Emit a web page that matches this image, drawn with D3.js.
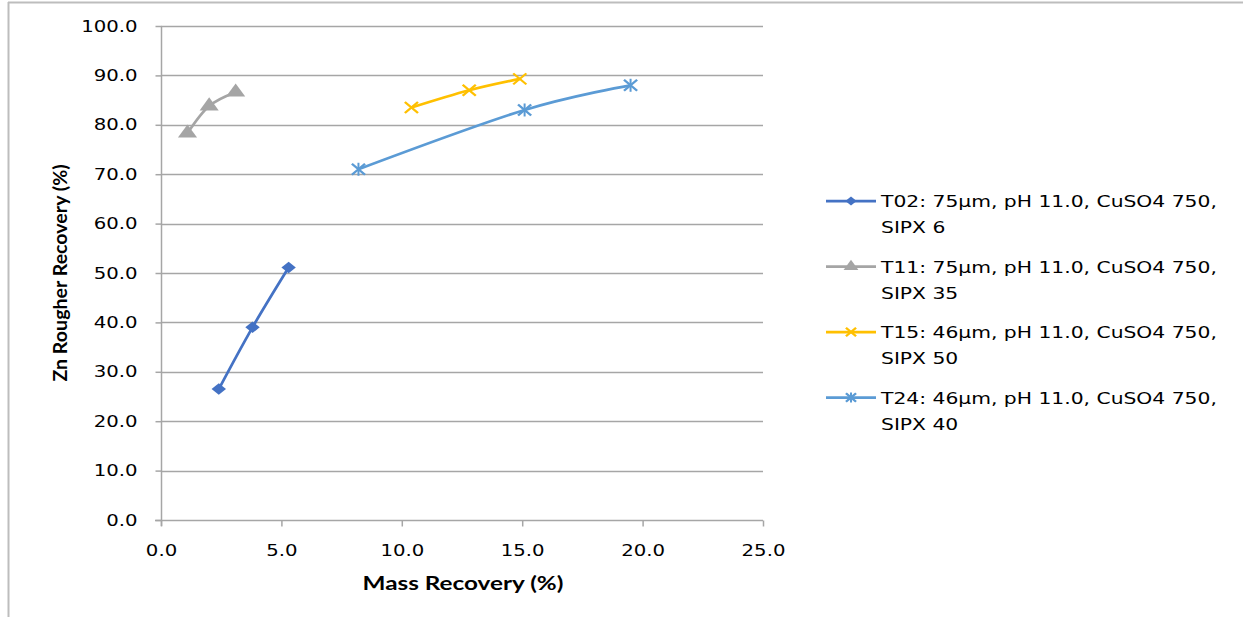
<!DOCTYPE html>
<html>
<head>
<meta charset="utf-8">
<script src="https://cdn.jsdelivr.net/npm/d3@7/dist/d3.min.js"></script>
<style>
  html, body { margin: 0; padding: 0; background: #fff; }
  svg { display: block; }
</style>
</head>
<body>
<svg id="chart" width="1243" height="617"></svg>
<script>
// Zn rougher recovery vs mass recovery, four flotation tests
const seriesNames = [
  "T02: 75\u00b5m, pH 11.0, CuSO4 750,|SIPX 6",
  "T11: 75\u00b5m, pH 11.0, CuSO4 750,|SIPX 35",
  "T15: 46\u00b5m, pH 11.0, CuSO4 750,|SIPX 50",
  "T24: 46\u00b5m, pH 11.0, CuSO4 750,|SIPX 40"
];
const massT02 = [2.4, 3.8, 5.3];
const znT02   = [26.5, 39.0, 51.1];
const massT11 = [1.1, 2.0, 3.1];
const znT11   = [78.3, 83.8, 86.6];
const massT15 = [10.4, 12.8, 14.9];
const znT15   = [83.5, 87.0, 89.3];
const massT24 = [8.2, 15.1, 19.5];
const znT24   = [71.0, 83.0, 88.0];
const xTicks = [0, 5, 10, 15, 20, 25];
const yTicks = [0, 10, 20, 30, 40, 50, 60, 70, 80, 90, 100];

const seriesColors = ["#4472C4", "#A5A5A5", "#FFC000", "#5B9BD5"];
const seriesMarkers = ["diamond", "triangle", "cross", "star"];

const series = [
  { name: seriesNames[0], x: massT02, y: znT02 },
  { name: seriesNames[1], x: massT11, y: znT11 },
  { name: seriesNames[2], x: massT15, y: znT15 },
  { name: seriesNames[3], x: massT24, y: znT24 }
].map((s, i) => ({
  ...s,
  color: seriesColors[i],
  marker: seriesMarkers[i],
  points: s.x.map((v, j) => [v, s.y[j]])
}));

const svg = d3.select("#chart");
const textStretch = 1.23; // wide text rendering of the chart

// outer chart frame (top and left edges)
svg.append("line").attr("x1", 8).attr("x2", 1243).attr("y1", 2.5).attr("y2", 2.5)
  .attr("stroke", "#bdbdbd").attr("stroke-width", 2);
svg.append("line").attr("x1", 8.5).attr("x2", 8.5).attr("y1", 2).attr("y2", 617)
  .attr("stroke", "#bdbdbd").attr("stroke-width", 2);

const plot = { left: 161, right: 763, top: 26, bottom: 520 };
const x = d3.scaleLinear().domain([0, 25]).range([plot.left, plot.right]);
const y = d3.scaleLinear().domain([0, 100]).range([plot.bottom, plot.top]);

const gridColor = "#a6a6a6";
const tickFont = "'DejaVu Sans', Verdana, sans-serif";

// horizontal gridlines
svg.append("g").selectAll("line").data(yTicks.filter(d => d > 0)).join("line")
  .attr("x1", plot.left).attr("x2", plot.right)
  .attr("y1", d => Math.round(y(d)) + 0.5).attr("y2", d => Math.round(y(d)) + 0.5)
  .attr("stroke", gridColor).attr("stroke-width", 1.5);

// y axis
const yAxis = svg.append("g").attr("transform", `translate(${plot.left + 0.5},0)`)
  .call(d3.axisLeft(y).tickValues(yTicks).tickSize(6).tickSizeOuter(0).tickPadding(18)
    .tickFormat(d3.format(".1f")));
// x axis
const xAxis = svg.append("g").attr("transform", `translate(0,${plot.bottom + 0.5})`)
  .call(d3.axisBottom(x).tickValues(xTicks).tickSize(6).tickSizeOuter(0).tickPadding(18)
    .tickFormat(d3.format(".1f")));

[yAxis, xAxis].forEach(ax => {
  ax.select(".domain").attr("stroke", gridColor).attr("stroke-width", 1.5);
  ax.selectAll(".tick line").attr("stroke", gridColor).attr("stroke-width", 1.5);
  ax.selectAll(".tick text").attr("fill", "#000")
    .style("font-family", tickFont).style("font-size", "16px")
    .each(function () {
      const t = d3.select(this);
      const tx = +t.attr("x") || 0, ty = +t.attr("y") || 0;
      t.attr("x", 0).attr("y", 0)
        .attr("transform", `translate(${tx},${ty}) scale(${textStretch},1)`);
    });
});
// y axis line spans the full plot height
yAxis.select(".domain").attr("d", `M0,${plot.top}V${plot.bottom + 6}`);
xAxis.select(".domain").attr("d", `M${plot.left - 6},0H${plot.right}`);

// axis titles
const titleFont = "Lato, 'Open Sans', sans-serif";
svg.append("text").attr("transform", `translate(463,590) scale(1.35,1)`).attr("text-anchor", "middle")
  .style("font-family", titleFont).style("font-weight", "bold").style("font-size", "18px")
  .text("Mass Recovery (%)");
svg.append("text").attr("transform", "translate(67,273) rotate(-90) scale(1.09,1)").attr("text-anchor", "middle")
  .style("font-family", titleFont).style("font-weight", "bold").style("font-size", "18px")
  .text("Zn Rougher Recovery (%)");

// marker drawing
function drawMarker(g, type, color, cx, cy, k = 1) {
  if (type === "diamond") {
    g.append("path").attr("d", d3.symbol(d3.symbolDiamond2, 85 * k)())
      .attr("transform", `translate(${cx},${cy}) scale(1.25,1)`).attr("fill", color);
  } else if (type === "triangle") {
    g.append("path").attr("d", d3.symbol(d3.symbolTriangle, 110 * k)())
      .attr("transform", `translate(${cx},${cy}) scale(1.2,0.95)`).attr("fill", color);
  } else if (type === "cross") {
    g.append("path").attr("d", d3.symbol(d3.symbolTimes, 80 * k)())
      .attr("transform", `translate(${cx},${cy}) scale(1.2,1)`).attr("fill", "none")
      .attr("stroke", color).attr("stroke-width", 2);
  } else if (type === "star") {
    g.append("path").attr("d", d3.symbol(d3.symbolTimes, 80 * k)())
      .attr("transform", `translate(${cx},${cy}) scale(1.2,1)`).attr("fill", "none")
      .attr("stroke", color).attr("stroke-width", 2);
    const h = 6.5 * Math.sqrt(k);
    g.append("line").attr("x1", cx).attr("x2", cx).attr("y1", cy - h).attr("y2", cy + h)
      .attr("stroke", color).attr("stroke-width", 2);
  }
}

// series lines (smoothed) and markers
const line = d3.line().x(d => x(d[0])).y(d => y(d[1])).curve(d3.curveCardinal.tension(0));
const seriesG = svg.append("g");
series.forEach(s => {
  seriesG.append("path").attr("d", line(s.points)).attr("fill", "none")
    .attr("stroke", s.color).attr("stroke-width", 2.75).attr("stroke-linejoin", "round");
  const mg = seriesG.append("g");
  s.points.forEach(p => drawMarker(mg, s.marker, s.color, x(p[0]), y(p[1])));
});

// legend
const legend = svg.append("g");
const legendTop = 201, legendStep = 65.5;
series.forEach((s, i) => {
  const cy = legendTop + i * legendStep;
  legend.append("line").attr("x1", 826).attr("x2", 876).attr("y1", cy).attr("y2", cy)
    .attr("stroke", s.color).attr("stroke-width", 2.75);
  drawMarker(legend, s.marker, s.color, 851, cy, 0.6);
  const lines = s.name.split("|");
  lines.forEach((t, j) => {
    legend.append("text")
      .attr("transform", `translate(881,${cy + 6 + j * 26}) scale(${textStretch},1)`)
      .style("font-family", tickFont).style("font-size", "16.5px").attr("fill", "#000")
      .text(t);
  });
});
</script>
</body>
</html>
